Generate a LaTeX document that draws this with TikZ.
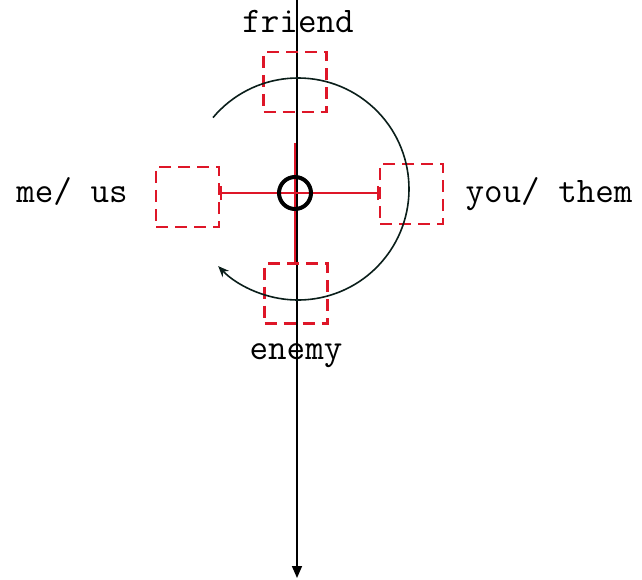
\documentclass[tikz,border=0pt]{standalone}
\usetikzlibrary{arrows.meta}
\definecolor{rred}{RGB}{222,22,40}
\definecolor{arcc}{RGB}{10,30,26}
\begin{document}
\begin{tikzpicture}[x=1pt,y=-1pt,
  rbox/.style={draw=rred,dashed,dash pattern=on 12pt off 7pt,line width=2.2pt,minimum width=63pt,minimum height=60pt,inner sep=0pt},
  lbl/.style={font=\fontsize{36}{40}\selectfont\ttfamily,inner sep=0pt,anchor=base},
  rline/.style={draw=rred,line width=2.2pt}]
\useasboundingbox (0,0) rectangle (642,580);
% black vertical axis
\coordinate (vt) at (297,0);
\coordinate (vb) at (297,578);
\draw[line width=1.6pt,-{Triangle[length=12pt,width=10pt]}] (vt) -- (vb);
% boxes
\node[rbox] (top) at (295,82) {};
\node[rbox] (left) at (187.5,197) {};
\node[rbox] (right) at (411.5,194) {};
\node[rbox] (bot) at (296,293.5) {};
% red cross
\coordinate (rt) at (295,143);
\draw[rline,{Bar[width=14pt]}-{Bar[width=14pt]}] (left.east |- 0,193) -- (right.west |- 0,193);
\draw[rline] (rt) -- (rt |- bot.north);
% center circle
\node[draw=black,line width=4pt,circle,minimum size=32pt,inner sep=0pt] (c) at (295,193) {};
% arc
\draw[arcc,line width=1.6pt,-{Stealth[length=11pt,width=9pt]}] (298,189) ++(-140:111) arc[start angle=-140,end angle=136,radius=111];
% labels
\node[lbl] (lf) at (298,33) {friend};
\node[lbl] (le) at (296,359) {enemy};
\node[lbl] (lm) at (72,202) {me/ us};
\node[lbl] (ly) at (549,203) {you/ them};
\end{tikzpicture}
\end{document}
